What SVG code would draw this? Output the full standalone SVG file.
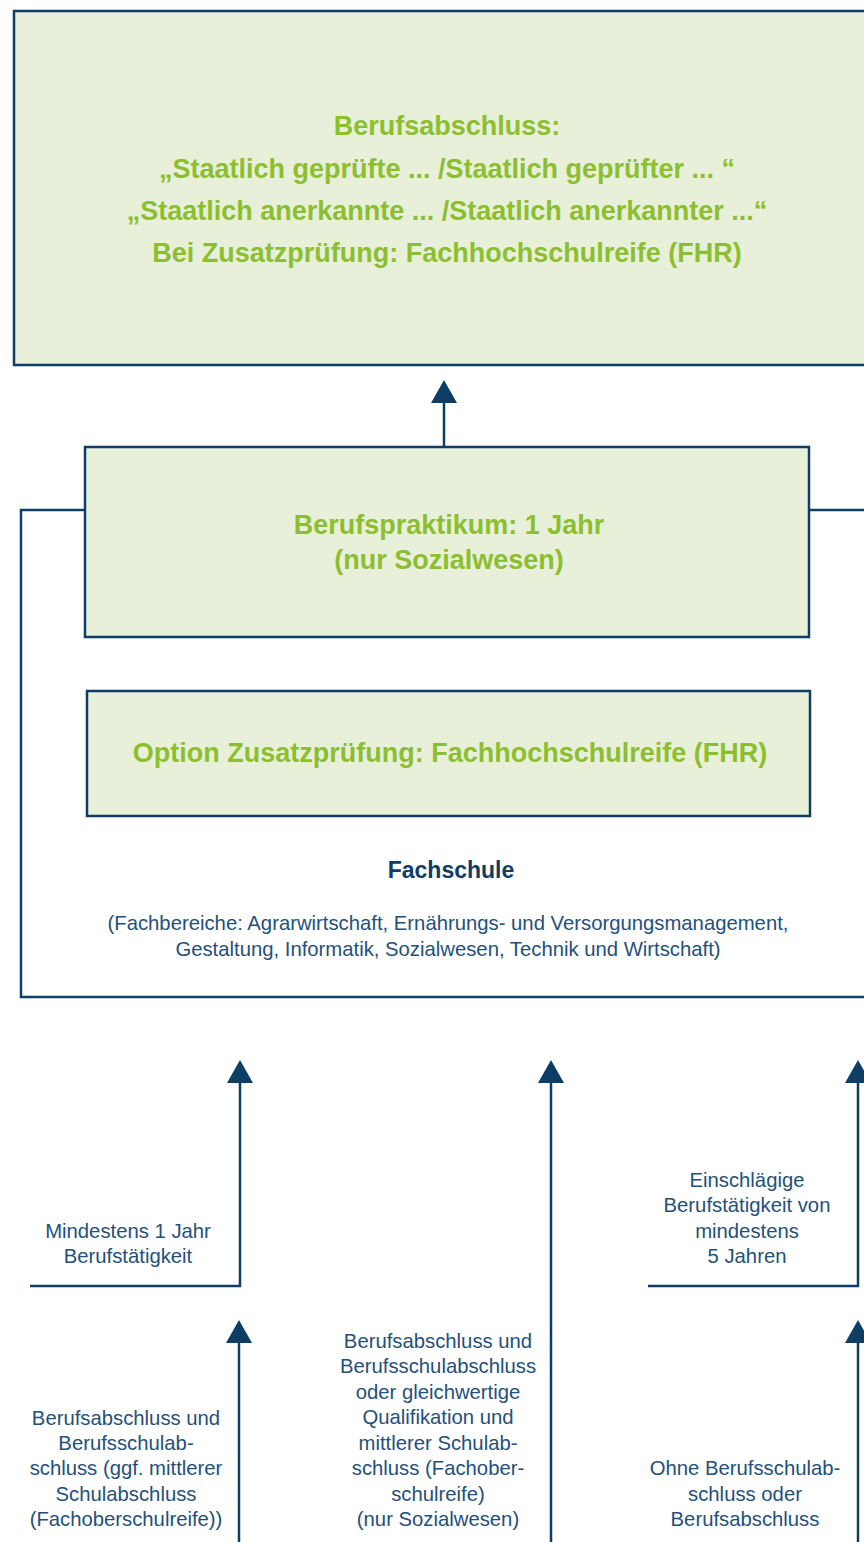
<svg xmlns="http://www.w3.org/2000/svg" width="864" height="1542" viewBox="0 0 864 1542">
<style>
.box{fill:#e8f0da;stroke:#0e3d66;stroke-width:2.5}
.ln{fill:none;stroke:#0e3d66;stroke-width:2.5}
.ah{fill:#0e3d66}
.g{font-family:"Liberation Sans",Arial,sans-serif;font-weight:bold;font-size:27px;fill:#8cbf2f;text-anchor:middle}
.t{font-family:"Liberation Sans",Arial,sans-serif;font-size:20.3px;fill:#24507c;text-anchor:middle}
.h{font-family:"Liberation Sans",Arial,sans-serif;font-weight:bold;font-size:23px;fill:#0e3d66;text-anchor:middle}
</style>
<rect width="864" height="1542" fill="#ffffff"/>
<g id="abschluss">
<rect class="box" x="14" y="11" width="860" height="354"/>
<text class="g" x="447" y="135">Berufsabschluss:</text>
<text class="g" x="447" y="178">„Staatlich geprüfte ... /Staatlich geprüfter ... “</text>
<text class="g" x="447" y="220">„Staatlich anerkannte ... /Staatlich anerkannter ...“</text>
<text class="g" x="447" y="262">Bei Zusatzprüfung: Fachhochschulreife (FHR)</text>
</g>
<g id="fachschule">
<path class="ln" d="M864 997 H21 V510 H85 M809 510 H866"/>
<text class="h" x="451" y="878">Fachschule</text>
<text class="t" x="448" y="930">(Fachbereiche: Agrarwirtschaft, Ernährungs- und Versorgungsmanagement,</text>
<text class="t" x="448" y="956">Gestaltung, Informatik, Sozialwesen, Technik und Wirtschaft)</text>
</g>
<g id="praktikum">
<rect class="box" x="85" y="447" width="724" height="190"/>
<text class="g" x="449" y="534">Berufspraktikum: 1 Jahr</text>
<text class="g" x="449" y="569">(nur Sozialwesen)</text>
</g>
<g id="option">
<rect class="box" x="87" y="691" width="723" height="125"/>
<text class="g" x="450" y="762">Option Zusatzprüfung: Fachhochschulreife (FHR)</text>
</g>
<g id="labels">
<text class="t" x="128" y="1238">Mindestens 1 Jahr</text>
<text class="t" x="128" y="1263">Berufstätigkeit</text>
<text class="t" x="747" y="1187">Einschlägige</text>
<text class="t" x="747" y="1212">Berufstätigkeit von</text>
<text class="t" x="747" y="1238">mindestens</text>
<text class="t" x="747" y="1263">5 Jahren</text>
<text class="t" x="126" y="1425">Berufsabschluss und</text>
<text class="t" x="126" y="1450">Berufsschulab-</text>
<text class="t" x="126" y="1475">schluss (ggf. mittlerer</text>
<text class="t" x="126" y="1501">Schulabschluss</text>
<text class="t" x="126" y="1526">(Fachoberschulreife))</text>
<text class="t" x="438" y="1348">Berufsabschluss und</text>
<text class="t" x="438" y="1373">Berufsschulabschluss</text>
<text class="t" x="438" y="1399">oder gleichwertige</text>
<text class="t" x="438" y="1424">Qualifikation und</text>
<text class="t" x="438" y="1450">mittlerer Schulab-</text>
<text class="t" x="438" y="1475">schluss (Fachober-</text>
<text class="t" x="438" y="1501">schulreife)</text>
<text class="t" x="438" y="1526">(nur Sozialwesen)</text>
<text class="t" x="745" y="1475">Ohne Berufsschulab-</text>
<text class="t" x="745" y="1501">schluss oder</text>
<text class="t" x="745" y="1526">Berufsabschluss</text>
</g>
<g id="connectors">
<line class="ln" x1="444" y1="447" x2="444" y2="400"/>
<polygon class="ah" points="444,380 431,403 457,403"/>
<path class="ln" d="M30 1286 H240 V1080"/>
<polygon class="ah" points="240,1060 227,1083 253,1083"/>
<line class="ln" x1="239" y1="1542" x2="239" y2="1340"/>
<polygon class="ah" points="239,1320 226,1343 252,1343"/>
<line class="ln" x1="551" y1="1542" x2="551" y2="1080"/>
<polygon class="ah" points="551,1060 538,1083 564,1083"/>
<path class="ln" d="M648 1286 H858 V1080"/>
<polygon class="ah" points="858,1060 845,1083 871,1083"/>
<line class="ln" x1="858" y1="1542" x2="858" y2="1340"/>
<polygon class="ah" points="858,1320 845,1343 871,1343"/>
</g>
</svg>
